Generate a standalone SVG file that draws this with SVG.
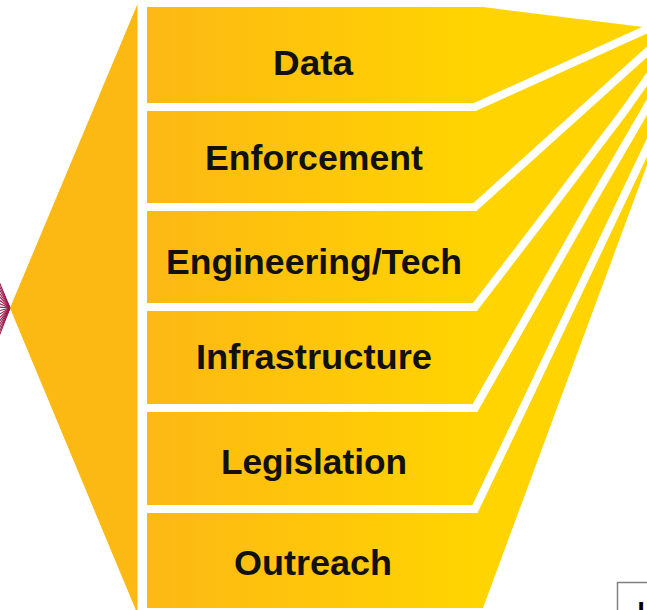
<svg xmlns="http://www.w3.org/2000/svg" width="647" height="610" viewBox="0 0 647 610">
  <defs>
    <linearGradient id="rowGrad" gradientUnits="userSpaceOnUse" x1="147" y1="0" x2="480" y2="0">
      <stop offset="0" stop-color="#FDB814"/>
      <stop offset="1" stop-color="#FFD400"/>
    </linearGradient>
    <style>
      .row { fill: url(#rowGrad); }
      .sep { fill: none; stroke: #FFFFFF; stroke-width: 8; stroke-linejoin: miter; }
      .lbl { font-family: "Liberation Sans", Arial, sans-serif; font-weight: 700; font-size: 35px; fill: #111111; text-anchor: middle; }
      .fan { stroke: #9B1B4B; stroke-width: 1.1; fill: none; }
    </style>
  </defs>
  <rect width="647" height="610" fill="#FFFFFF"/>

  <g id="hub-fan">
    <line class="fan" x1="10" y1="308" x2="-2" y2="279"/>
    <line class="fan" x1="10" y1="308" x2="-2" y2="283"/>
    <line class="fan" x1="10" y1="308" x2="-2" y2="287"/>
    <line class="fan" x1="10" y1="308" x2="-2" y2="291"/>
    <line class="fan" x1="10" y1="308" x2="-2" y2="295"/>
    <line class="fan" x1="10" y1="308" x2="-2" y2="299"/>
    <line class="fan" x1="10" y1="308" x2="-2" y2="303"/>
    <line class="fan" x1="10" y1="308" x2="-2" y2="307"/>
    <line class="fan" x1="10" y1="308" x2="-2" y2="311"/>
    <line class="fan" x1="10" y1="308" x2="-2" y2="315"/>
    <line class="fan" x1="10" y1="308" x2="-2" y2="319"/>
    <line class="fan" x1="10" y1="308" x2="-2" y2="323"/>
    <line class="fan" x1="10" y1="308" x2="-2" y2="327"/>
    <line class="fan" x1="10" y1="308" x2="-2" y2="331"/>
    <line class="fan" x1="10" y1="308" x2="-2" y2="335"/>
    <line class="fan" x1="10" y1="308" x2="-2" y2="339"/>
  </g>

  <g id="chevron">
    <polygon points="137.5,4 10,308 137.5,614" fill="#FDB913"/>
  </g>

  <g id="row-data">
    <polygon class="row" points="147,7 483,7 650,28 475,107 147,107"/>
    <text class="lbl" x="313" y="75" textLength="80" lengthAdjust="spacingAndGlyphs">Data</text>
  </g>
  <g id="row-enforcement">
    <polygon class="row" points="147,107 475,107 650,28 650,49 475,207 147,207"/>
    <text class="lbl" x="314" y="170" textLength="218" lengthAdjust="spacingAndGlyphs">Enforcement</text>
  </g>
  <g id="row-engineering">
    <polygon class="row" points="147,207 475,207 650,49 650,75 623,113 557,200 475,307 147,307"/>
    <text class="lbl" x="314" y="274" textLength="296" lengthAdjust="spacingAndGlyphs">Engineering/Tech</text>
  </g>
  <g id="row-infrastructure">
    <polygon class="row" points="147,307 475,307 557,200 623,113 650,75 650,102 593,200 475,408 147,408"/>
    <text class="lbl" x="314" y="369" textLength="236" lengthAdjust="spacingAndGlyphs">Infrastructure</text>
  </g>
  <g id="row-legislation">
    <polygon class="row" points="147,408 475,408 593,200 650,102 650,141 622,200 527,400 475,509 147,509"/>
    <text class="lbl" x="314" y="474" textLength="186" lengthAdjust="spacingAndGlyphs">Legislation</text>
  </g>
  <g id="row-outreach">
    <polygon class="row" points="147,509 475,509 527,400 622,200 650,141 650,157 483,608 147,608"/>
    <text class="lbl" x="313" y="575" textLength="158" lengthAdjust="spacingAndGlyphs">Outreach</text>
  </g>

  <g id="connectors">
    <polyline class="sep" points="140,107 475,107 700,5"/>
    <polyline class="sep" points="140,207 475,207 700,4"/>
    <polyline class="sep" points="140,307 475,307 557,200 623,113 647,79 690,20"/>
    <polyline class="sep" points="140,408 475,408 593,200 647,107 700,15"/>
    <polyline class="sep" points="140,509 475,509 527,400 622,200 662,116 700,36"/>
  </g>

  <g id="corner-box">
    <rect x="617.5" y="582.5" width="40" height="40" fill="#FFFFFF" stroke="#808080" stroke-width="1.5"/>
    <text x="637.5" y="620" font-family="Liberation Sans, Arial, sans-serif" font-weight="700" font-size="26" fill="#000000">I</text>
  </g>
</svg>
